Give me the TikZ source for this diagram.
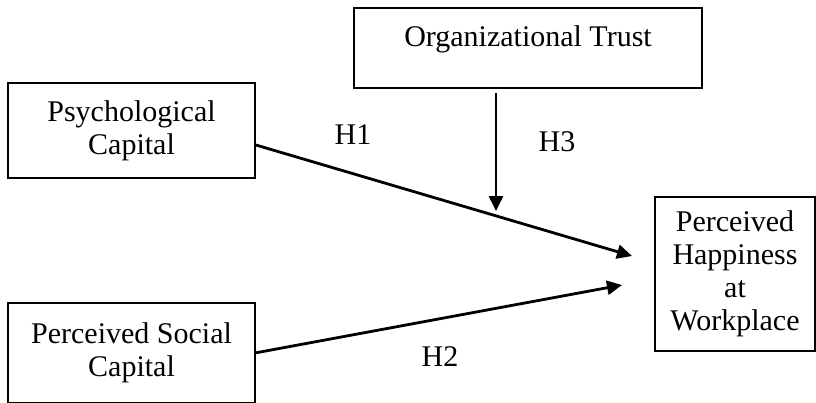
\documentclass[tikz,border=0pt]{standalone}
\usepackage{fontspec}
\setmainfont{Liberation Serif}
\usetikzlibrary{arrows.meta,positioning}

\tikzset{
    var/.style={draw, line width=1.8pt, align=center, inner sep=0pt,
        font=\fontsize{30}{33}\selectfont},
    hyp/.style={font=\fontsize{30}{33}\selectfont},
    link/.style={line width=2.8pt, -{Triangle[length=15pt,width=14pt]}}
}

\begin{document}
\begin{tikzpicture}[x=1pt, y=-1pt]
        \useasboundingbox (0,0) rectangle (816,402);

        \node[var, minimum width=247pt, minimum height=95pt] (pc) at (131.5,130.5) {Psychological\\Capital};

        \node[var, minimum width=247pt, minimum height=100pt, below=123pt of pc] (psc) {Perceived Social\\Capital};

        \node[var, minimum width=348pt, minimum height=80pt] (ot) at (528,48) {Organizational Trust\\[-10pt]\mbox{}};

        \node[var, minimum width=160pt, minimum height=154pt] (phw) at (735,274) {Perceived\\Happiness\\at\\Workplace};

        \coordinate (h1end) at (632,256);
        \coordinate (h2end) at (622,285);
        \coordinate (h3start) at (496,93);
        \coordinate (h3end) at (496,211);

        \draw[link] ([yshift=-14.5pt]pc.east) -- (h1end);
        \draw[link] (psc.east) -- (h2end);
        \draw[link] (h3start) -- (h3end);

        \node[hyp] (h1) at (353,135) {H1};
        \node[hyp] (h3) at (557,142) {H3};
        \node[hyp] (h2) at (440,357) {H2};

    \end{tikzpicture}
\end{document}
